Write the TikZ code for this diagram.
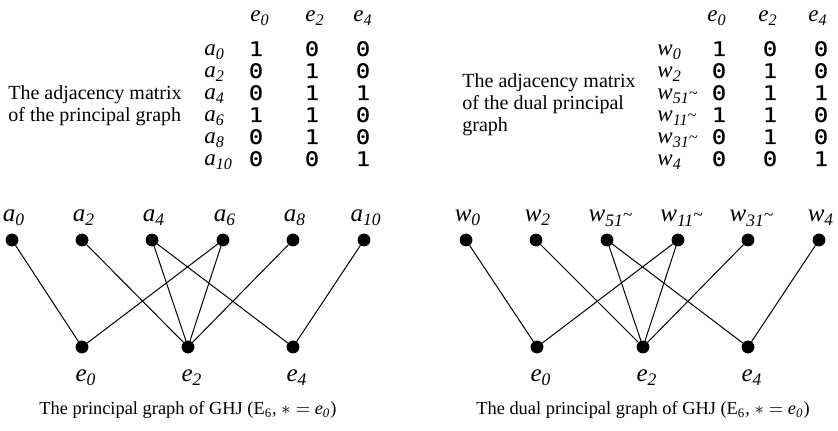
\documentclass[tikz,border=0pt]{standalone}
\usepackage{fontspec}
\setmainfont{Liberation Serif}
\newfontfamily\digitfont[FakeStretch=1.2, FakeBold=0.6]{DejaVu Sans Mono}
\usepackage{tikz}
\newcommand{\vlab}[2]{\textit{#1}\textsubscript{\textit{#2}}}
\newcommand{\tl}{\raisebox{0.7ex}{\~{}}}

\begin{document}
\begin{tikzpicture}[x=0.5pt, y=-0.5pt]
        \tikzstyle{dot} = [draw, fill, circle, minimum size=6pt, inner sep=0pt]
        \tikzstyle{vert} = [font=\fontsize{12.5}{14}\selectfont, inner sep=0pt, anchor=base]
        \tikzstyle{mlab} = [font=\fontsize{11.5}{13}\selectfont, inner sep=0pt]
        \tikzstyle{entry} = [font=\digitfont\fontsize{10}{12}\selectfont, inner sep=0pt, anchor=base]
        \tikzstyle{txt} = [font=\fontsize{10}{11}\selectfont, align=left, inner sep=0pt]
        \tikzstyle{captxt} = [font=\fontsize{9.2}{11}\selectfont, inner sep=0pt, anchor=base]
        \tikzstyle{edge} = [line width=0.5pt]
        \useasboundingbox (0,0) rectangle (838,431);

        % left: adjacency matrix of the principal graph
        \node[txt, anchor=west] (ltxt) at (8,106) {The adjacency matrix\\of the principal graph};
        \node[mlab, anchor=base] (lh0) at (260,22) {\vlab{e}{0}};
        \node[mlab, anchor=base] (lh2) at (315,22) {\vlab{e}{2}};
        \node[mlab, anchor=base] (lh4) at (363,22) {\vlab{e}{4}};
        \foreach \lab/\p/\q/\s [count=\i from 0] in
            {{\vlab{a}{0}}/1/0/0, {\vlab{a}{2}}/0/1/0, {\vlab{a}{4}}/0/1/1,
             {\vlab{a}{6}}/1/1/0, {\vlab{a}{8}}/0/1/0, {\vlab{a}{10}}/0/0/1} {
          \node[mlab, anchor=base west] (lr\i) at (204,56+22*\i) {\lab};
          \node[entry] (lp\i) at (256,56+22*\i) {\p};
          \node[entry] (lq\i) at (312,56+22*\i) {\q};
          \node[entry] (ls\i) at (363,56+22*\i) {\s};
        }

        % left: principal graph
        \node[dot] (a0) at (12,240) {};
        \node[dot] (a2) at (82,240) {};
        \node[dot] (a4) at (152,240) {};
        \node[dot] (a6) at (223,240) {};
        \node[dot] (a8) at (293,240) {};
        \node[dot] (a10) at (364,240) {};
        \node[dot] (e0) at (82,347) {};
        \node[dot] (e2) at (188,347) {};
        \node[dot] (e4) at (293,347) {};
        \node[vert] (la0) at (14,222) {\vlab{a}{0}};
        \node[vert] (la2) at (84,222) {\vlab{a}{2}};
        \node[vert] (la4) at (154,222) {\vlab{a}{4}};
        \node[vert] (la6) at (225,222) {\vlab{a}{6}};
        \node[vert] (la8) at (295,222) {\vlab{a}{8}};
        \node[vert] (la10) at (366,222) {\vlab{a}{10}};
        \node[vert] (le0) at (86,382) {\vlab{e}{0}};
        \node[vert] (le2) at (192,382) {\vlab{e}{2}};
        \node[vert] (le4) at (297,382) {\vlab{e}{4}};
        \draw[edge] (a0) -- (e0);
        \draw[edge] (a2) -- (e2);
        \draw[edge] (a4) -- (e2);
        \draw[edge] (a4) -- (e4);
        \draw[edge] (a6) -- (e0);
        \draw[edge] (a6) -- (e2);
        \draw[edge] (a8) -- (e2);
        \draw[edge] (a10) -- (e4);
        \node[captxt] (lcap) at (188,415) {The principal graph of GHJ (E\textsubscript{6}, $\ast=$ \vlab{e}{0})};

        % right: adjacency matrix of the dual principal graph
        \node[txt, anchor=west] (rtxt) at (462,105) {The adjacency matrix\\of the dual principal\\graph};
        \node[mlab, anchor=base] (rh0) at (717,22) {\vlab{e}{0}};
        \node[mlab, anchor=base] (rh2) at (768,22) {\vlab{e}{2}};
        \node[mlab, anchor=base] (rh4) at (818,22) {\vlab{e}{4}};
        \foreach \lab/\p/\q/\s [count=\i from 0] in
            {{\vlab{w}{0}}/1/0/0, {\vlab{w}{2}}/0/1/0, {\vlab{w}{51\tl}}/0/1/1,
             {\vlab{w}{11\tl}}/1/1/0, {\vlab{w}{31\tl}}/0/1/0, {\vlab{w}{4}}/0/0/1} {
          \node[mlab, anchor=base west] (rr\i) at (657,56+22*\i) {\lab};
          \node[entry] (rp\i) at (719,56+22*\i) {\p};
          \node[entry] (rq\i) at (770,56+22*\i) {\q};
          \node[entry] (rs\i) at (821,56+22*\i) {\s};
        }

        % right: dual principal graph
        \node[dot] (w0) at (466,240) {};
        \node[dot] (w2) at (536,240) {};
        \node[dot] (w51) at (607,240) {};
        \node[dot] (w11) at (678,240) {};
        \node[dot] (w31) at (748,240) {};
        \node[dot] (w4) at (819,240) {};
        \node[dot] (f0) at (537,347) {};
        \node[dot] (f2) at (643,347) {};
        \node[dot] (f4) at (748,347) {};
        \node[vert] (lw0) at (468,222) {\vlab{w}{0}};
        \node[vert] (lw2) at (538,222) {\vlab{w}{2}};
        \node[vert] (lw51) at (611,222) {\vlab{w}{51\tl}};
        \node[vert] (lw11) at (682,222) {\vlab{w}{11\tl}};
        \node[vert] (lw31) at (752,222) {\vlab{w}{31\tl}};
        \node[vert] (lw4) at (821,222) {\vlab{w}{4}};
        \node[vert] (lf0) at (541,382) {\vlab{e}{0}};
        \node[vert] (lf2) at (647,382) {\vlab{e}{2}};
        \node[vert] (lf4) at (752,382) {\vlab{e}{4}};
        \draw[edge] (w0) -- (f0);
        \draw[edge] (w2) -- (f2);
        \draw[edge] (w51) -- (f2);
        \draw[edge] (w51) -- (f4);
        \draw[edge] (w11) -- (f0);
        \draw[edge] (w11) -- (f2);
        \draw[edge] (w31) -- (f2);
        \draw[edge] (w4) -- (f4);
        \node[captxt] (rcap) at (643,415) {The dual principal graph of GHJ (E\textsubscript{6}, $\ast=$ \vlab{e}{0})};
\end{tikzpicture}
\end{document}
